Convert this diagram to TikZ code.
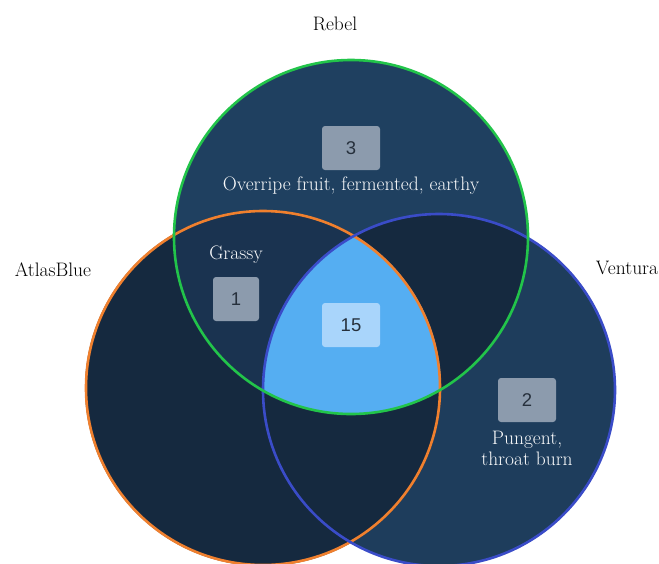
\documentclass[tikz,border=0pt]{standalone}
\usepackage{fontspec}
\newfontfamily\numfont{Liberation Sans}
\usetikzlibrary{positioning}
\definecolor{soloblue}{HTML}{1F4060}
\definecolor{atlasfill}{HTML}{15293F}
\definecolor{grassfill}{HTML}{1A3350}
\definecolor{pairfill}{HTML}{15293F}
\definecolor{corefill}{HTML}{55AEF2}
\definecolor{rebelgreen}{HTML}{22C44A}
\definecolor{atlasorange}{HTML}{F0802E}
\definecolor{venturablue}{HTML}{3A4CC8}
\definecolor{boxgray}{HTML}{8C9BAD}
\definecolor{boxlight}{HTML}{A9D5FB}
\definecolor{numdark}{HTML}{26303C}
\tikzset{
    set/.style={
        circle,
        minimum size=354pt,
        inner sep=0pt,
        line width=2.6pt},
    countbox/.style={
        rounded corners=3pt,
        fill=boxgray,
        text=numdark,
        minimum width=58pt,
        minimum height=44pt,
        inner sep=0pt,
        font=\numfont\fontsize{18.5}{18.5}\selectfont},
    setname/.style={
        font=\fontsize{19.5}{23}\selectfont},
    note/.style={
        text=white!97!soloblue,
        align=center,
        inner sep=1pt,
        font=\fontsize{19.5}{21}\selectfont}}

\begin{document}
\begin{tikzpicture}[x=1pt,y=-1pt]
        \useasboundingbox (0,0) rectangle (659,563);
        % region fills
        \fill[soloblue] (351,237) circle[radius=177pt];
        \fill[soloblue!96!black] (439,390) circle[radius=176pt];
        \fill[atlasfill] (263,388) circle[radius=178pt];
        \begin{scope}
            \clip (351,237) circle[radius=177pt];
            \fill[grassfill] (263,388) circle[radius=178pt];
            \fill[pairfill] (439,390) circle[radius=176pt];
        \end{scope}
        \begin{scope}
            \clip (263,388) circle[radius=178pt];
            \fill[pairfill] (439,390) circle[radius=176pt];
        \end{scope}
        \begin{scope}
            \clip (351,237) circle[radius=177pt];
            \clip (263,388) circle[radius=178pt];
            \fill[corefill] (439,390) circle[radius=176pt];
        \end{scope}

        % outlines
        \node[set,draw=atlasorange] (atlas) at (263,388) {};
        \node[set,draw=venturablue,minimum size=352pt] (ventura) at (439,390) {};
        \node[set,draw=rebelgreen] (rebel) at (351,237) {};

        % set names
        \node[setname] (rebelname) at (335,24) {Rebel};
        \node[setname] (atlasname) at (53,270) {AtlasBlue};
        \node[setname] (venturaname) at (627,268) {Ventura};

        % counts and notes
        \node[countbox] (n3) at (351,148) {3};
        \node[note,below=5pt of n3] (n3note) {Overripe fruit, fermented, earthy};
        \node[countbox,minimum width=46pt] (n1) at (236,299) {1};
        \node[note,above=12pt of n1] (n1note) {Grassy};
        \node[countbox,fill=boxlight] (n15) at (351,325) {15};
        \node[countbox] (n2) at (527,400) {2};
        \node[note,below=8pt of n2] (n2note) {Pungent,\\throat burn};
    \end{tikzpicture}
\end{document}
